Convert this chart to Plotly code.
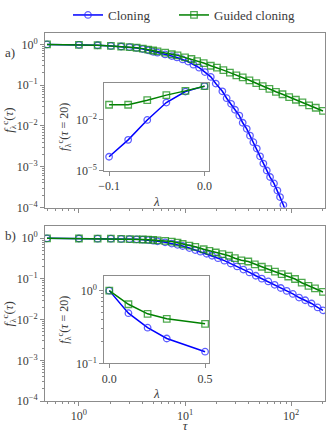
import plotly.graph_objects as go

# ---- データ ----
# a) λ < 0
tau_clone_a = [0.5, 1, 1.5, 2, 2.5, 3, 3.5, 4, 4.5, 5, 5.5, 6.5, 7.5, 8.4, 9.5, 10.7, 12, 13.6,
               15.4, 17.5, 19.5, 22.5, 24.7, 27.2, 29.6, 32.5, 35, 38.2, 41, 44.1, 47.5, 51,
               54.8, 59, 63.4, 69, 74.3, 78.7, 84.6, 90]
f_clone_a = [1.0, 0.98, 0.955, 0.92, 0.89, 0.86, 0.82, 0.77, 0.72, 0.66, 0.63, 0.57, 0.52, 0.48,
             0.43, 0.38, 0.32, 0.27, 0.21, 0.16, 0.11, 0.071, 0.048, 0.035, 0.025, 0.018, 0.012,
             0.0085, 0.0058, 0.004, 0.0028, 0.0018, 0.0012, 8.1e-4, 5.6e-4, 3.9e-4, 2.6e-4,
             1.8e-4, 1.15e-4, 7.6e-5]
tau_guided_a = [0.5, 1, 1.5, 2, 2.5, 3, 3.5, 4, 4.5, 5, 5.5, 6.5, 7.5, 8.5, 10, 11.5, 13, 15,
                17.5, 20, 23, 26.5, 30.5, 35, 40.5, 47, 54, 62.5, 72, 83, 96, 111, 128, 148, 171, 200]
f_guided_a = [1.0, 0.98, 0.955, 0.92, 0.89, 0.86, 0.83, 0.79, 0.75, 0.71, 0.68, 0.63, 0.575, 0.54,
              0.48, 0.44, 0.39, 0.35, 0.30, 0.27, 0.235, 0.204, 0.174, 0.155, 0.132, 0.112, 0.095,
              0.081, 0.069, 0.060, 0.051, 0.044, 0.038, 0.032, 0.028, 0.0234]

# b) λ > 0
tau_clone_b = [0.5, 1, 1.5, 2, 2.5, 3, 3.5, 4, 4.5, 5, 5.5, 6.5, 7.5, 8.5, 9.5, 11, 12.5, 14, 16,
               18, 20.5, 23.5, 27, 31, 35.5, 40.5, 46.5, 53, 61, 70, 80, 91, 104, 119, 136, 156,
               178, 200]
f_clone_b = [1.0, 0.989, 0.977, 0.977, 0.966, 0.955, 0.944, 0.923, 0.902, 0.871, 0.841, 0.794,
             0.741, 0.692, 0.646, 0.575, 0.513, 0.468, 0.417, 0.372, 0.324, 0.282, 0.24, 0.204,
             0.17, 0.145, 0.12, 0.102, 0.087, 0.072, 0.06, 0.051, 0.043, 0.035, 0.03, 0.025,
             0.02, 0.017]
tau_guided_b = [0.5, 1, 1.5, 2, 2.5, 3, 3.5, 4, 4.5, 5, 5.5, 6.5, 7.5, 8.5, 9.5, 11, 12.5, 15, 17,
                19.5, 22.5, 26, 29.5, 34, 39.5, 45.5, 53, 61, 70.5, 81.5, 94, 109, 126, 146, 168, 200]
f_guided_b = [1.0, 0.989, 0.977, 0.977, 0.966, 0.955, 0.944, 0.933, 0.923, 0.912, 0.891, 0.859,
              0.832, 0.78, 0.724, 0.661, 0.617, 0.537, 0.49, 0.447, 0.407, 0.372, 0.324, 0.288,
              0.269, 0.229, 0.2, 0.174, 0.151, 0.132, 0.115, 0.1, 0.081, 0.068, 0.059, 0.048]

# インセット f(τ=20)
lam_a = [-0.1, -0.08, -0.06, -0.04, -0.02, 0.0]
f20_clone_a = [6.6e-5, 6.6e-4, 0.01, 0.107, 0.48, 1.0]
f20_guided_a = [0.079, 0.079, 0.148, 0.295, 0.525, 1.0]
lam_b = [0.0, 0.1, 0.2, 0.3, 0.5]
f20_clone_b = [1.0, 0.49, 0.31, 0.22, 0.145]
f20_guided_b = [1.0, 0.65, 0.48, 0.41, 0.35]

# 目盛りラベル
main_y_vals = [1e-4, 1e-3, 1e-2, 1e-1, 1]
main_y_text = ["10<sup>−4</sup>", "10<sup>−3</sup>", "10<sup>−2</sup>", "10<sup>−1</sup>", "10<sup>0</sup>"]
main_x_vals = [1, 10, 100]
main_x_text = ["10<sup>0</sup>", "10<sup>1</sup>", "10<sup>2</sup>"]
inset_a_y_vals = [1e-5, 1e-2]
inset_a_y_text = ["10<sup>−5</sup>", "10<sup>−2</sup>"]
inset_a_x_vals = [-0.1, 0.0]
inset_a_x_text = ["−0.1", "0.0"]
inset_b_y_vals = [0.1, 1]
inset_b_y_text = ["10<sup>−1</sup>", "10<sup>0</sup>"]
inset_b_x_vals = [0.0, 0.5]
inset_b_x_text = ["0.0", "0.5"]

BLUE = "#0000ff"
GREEN = "#008000"
FONT = "Liberation Serif"
SPINE = "#8c8c8c"
TXT = "#3a3a3a"

fig = go.Figure()


def add_pair(x_c, y_c, x_g, y_g, xa, ya, legend):
    fig.add_trace(go.Scatter(x=x_c, y=y_c, mode="lines+markers", name="Cloning",
                             xaxis=xa, yaxis=ya, showlegend=legend, legend="legend",
                             line=dict(color=BLUE, width=1.5),
                             marker=dict(symbol="circle-open", size=6.5, color="rgba(40,40,255,0.75)",
                                         line=dict(width=1.3))))
    fig.add_trace(go.Scatter(x=x_g, y=y_g, mode="lines+markers", name="Guided cloning",
                             xaxis=xa, yaxis=ya, showlegend=legend, legend="legend2",
                             line=dict(color=GREEN, width=1.5),
                             marker=dict(symbol="square-open", size=6.5, color="rgba(20,140,20,0.75)",
                                         line=dict(width=1.3))))


add_pair(tau_clone_a, f_clone_a, tau_guided_a, f_guided_a, "x", "y", True)
add_pair(tau_clone_b, f_clone_b, tau_guided_b, f_guided_b, "x2", "y2", False)
add_pair(lam_a, f20_clone_a, lam_a, f20_guided_a, "x3", "y3", False)
add_pair(lam_b, f20_clone_b, lam_b, f20_guided_b, "x4", "y4", False)

H = 433.0
W = 328.0
main_x = [45 / W, 325 / W]
inset_x = [104.3 / W, 209.3 / W]

axis_common = dict(showline=True, mirror=True, linecolor=SPINE, linewidth=1, automargin=False,
                   ticks="outside", ticklen=4, tickcolor=SPINE, showgrid=False,
                   zeroline=False, tickfont=dict(family=FONT, size=12, color=TXT))
minor_log = dict(ticks="outside", ticklen=2, tickcolor=SPINE, dtick="D1", showgrid=False)
legend_common = dict(orientation="h", y=1 - 14 / H, xanchor="left", yanchor="middle",
                     font=dict(family=FONT, size=13, color=TXT), bgcolor="rgba(0,0,0,0)",
                     itemwidth=30)

fig.update_layout(
    width=328, height=433, margin=dict(l=0, r=0, t=0, b=0),
    plot_bgcolor="white", paper_bgcolor="white",
    font=dict(family=FONT, color=TXT),
    xaxis=dict(axis_common, type="log", domain=main_x, anchor="y", range=[-0.32, 2.32],
               tickvals=main_x_vals, ticktext=main_x_text, showticklabels=False, minor=minor_log),
    yaxis=dict(axis_common, type="log", domain=[1 - 207 / H, 1 - 31.7 / H], anchor="x",
               range=[-4, 0.29], tickvals=main_y_vals, ticktext=main_y_text, minor=minor_log,
               title=dict(text="<i>f</i><sub>λ</sub><sup>c</sup>(<i>τ</i>)", standoff=4,
                          font=dict(family=FONT, size=13, color=TXT))),
    xaxis2=dict(axis_common, type="log", domain=main_x, anchor="y2", range=[-0.32, 2.32],
                tickvals=main_x_vals, ticktext=main_x_text, minor=minor_log,
                title=dict(text="<i>τ</i>", standoff=8, font=dict(family=FONT, size=13, color=TXT))),
    yaxis2=dict(axis_common, type="log", domain=[1 - 401 / H, 1 - 226 / H], anchor="x2",
                range=[-4, 0.29], tickvals=main_y_vals, ticktext=main_y_text, minor=minor_log,
                title=dict(text="<i>f</i><sub>λ</sub><sup>c</sup>(<i>τ</i>)", standoff=4,
                           font=dict(family=FONT, size=13, color=TXT))),
    xaxis3=dict(axis_common, domain=inset_x, anchor="y3", range=[-0.105, 0.005],
                tickvals=inset_a_x_vals, ticktext=inset_a_x_text,
                title=dict(text="<i>λ</i>", standoff=4, font=dict(family=FONT, size=13, color=TXT))),
    yaxis3=dict(axis_common, type="log", domain=[1 - 170 / H, 1 - 82.3 / H], anchor="x3",
                range=[-5, 0.18], tickvals=inset_a_y_vals, ticktext=inset_a_y_text,
                title=dict(text="<i>f</i><sub>λ</sub><sup>c</sup>(<i>τ</i> = 20)", standoff=4,
                           font=dict(family=FONT, size=12, color=TXT))),
    xaxis4=dict(axis_common, domain=inset_x, anchor="y4", range=[-0.026, 0.522],
                tickvals=inset_b_x_vals, ticktext=inset_b_x_text,
                title=dict(text="<i>λ</i>", standoff=4, font=dict(family=FONT, size=13, color=TXT))),
    yaxis4=dict(axis_common, type="log", domain=[1 - 363.3 / H, 1 - 275.7 / H], anchor="x4",
                range=[-1, 0.2], tickvals=inset_b_y_vals, ticktext=inset_b_y_text, minor=minor_log,
                title=dict(text="<i>f</i><sub>λ</sub><sup>c</sup>(<i>τ</i> = 20)", standoff=4,
                           font=dict(family=FONT, size=12, color=TXT))),
    legend=dict(legend_common, x=68 / W),
    legend2=dict(legend_common, x=174 / W),
)

fig.add_annotation(text="a)", x=3 / W, y=1 - 41.7 / H, xref="paper", yref="paper",
                   xanchor="left", showarrow=False, font=dict(family=FONT, size=13, color=TXT))
fig.add_annotation(text="b)", x=3 / W, y=1 - 235 / H, xref="paper", yref="paper",
                   xanchor="left", showarrow=False, font=dict(family=FONT, size=13, color=TXT))

# ページ余白を消す、ツールバー非表示
fig.write_html("out.html", config={"displayModeBar": False},
               post_script="document.body.style.margin='0';")
